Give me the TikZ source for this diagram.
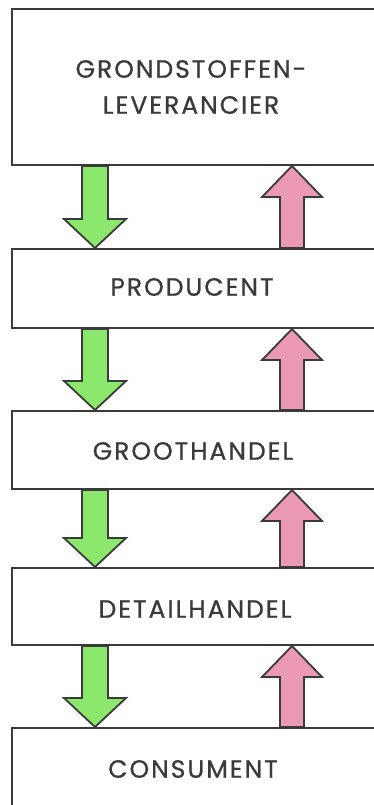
\documentclass[tikz,border=0pt]{standalone}
\usepackage{fontspec}
\newfontfamily\labfont[LetterSpace=8,FakeBold=0.8]{Poppins}
\usetikzlibrary{calc}
\definecolor{ink}{HTML}{3A3A3A}
\definecolor{agreen}{HTML}{8CE86C}
\definecolor{apink}{HTML}{EC9AB4}
\tikzset{
  stage/.style={draw=ink, line width=2pt, fill=white, rectangle, anchor=north west, inner sep=0pt, minimum width=390pt},
  lab/.style={text=ink, font=\labfont\fontsize{25}{36}\selectfont, align=center, inner sep=0pt},
  goods/.style={draw=ink, line width=1.8pt, fill=agreen, line join=miter},
  money/.style={draw=ink, line width=1.8pt, fill=apink, line join=miter}
}
\newcommand\flowpair[2]{%
  \draw[goods] ($(95,0 |- #1.south)+(-13,0)$) -- ($(95,0 |- #2.north)+(-13,-29)$) -- ++(-18,0)
     -- (95,0 |- #2.north) -- ($(95,0 |- #2.north)+(31,-29)$) -- ++(-18,0)
     -- ($(95,0 |- #1.south)+(13,0)$) -- cycle;
  \draw[money] ($(292,0 |- #2.north)+(-12,0)$) -- ($(292,0 |- #1.south)+(-12,31)$) -- ++(-18,0)
     -- (292,0 |- #1.south) -- ($(292,0 |- #1.south)+(30,31)$) -- ++(-18,0)
     -- ($(292,0 |- #2.north)+(12,0)$) -- cycle;
}
\begin{document}
\begin{tikzpicture}[x=1pt,y=-1pt]
\useasboundingbox (0,0) rectangle (374,805);
\clip (0,0) rectangle (374,805);
\fill[white] (0,0) rectangle (374,805);
\node[stage, minimum height=156pt] (b1) at (11,8) {};
\node[stage, minimum height=79pt] (b2) at (11,248) {};
\node[stage, minimum height=78pt] (b3) at (11,410) {};
\node[stage, minimum height=77pt] (b4) at (11,567) {};
\node[stage, minimum height=110pt] (b5) at (11,727) {};
\node[lab] (t1) at (191,87) {GRONDSTOFFEN-\\LEVERANCIER};
\node[lab] (t2) at (192,287) {PRODUCENT};
\node[lab] (t3) at (193,451) {GROOTHANDEL};
\node[lab] (t4) at (195,609) {DETAILHANDEL};
\node[lab] (t5) at (193,769) {CONSUMENT};
\flowpair{b1}{b2}
\flowpair{b2}{b3}
\flowpair{b3}{b4}
\flowpair{b4}{b5}
\end{tikzpicture}
\end{document}
